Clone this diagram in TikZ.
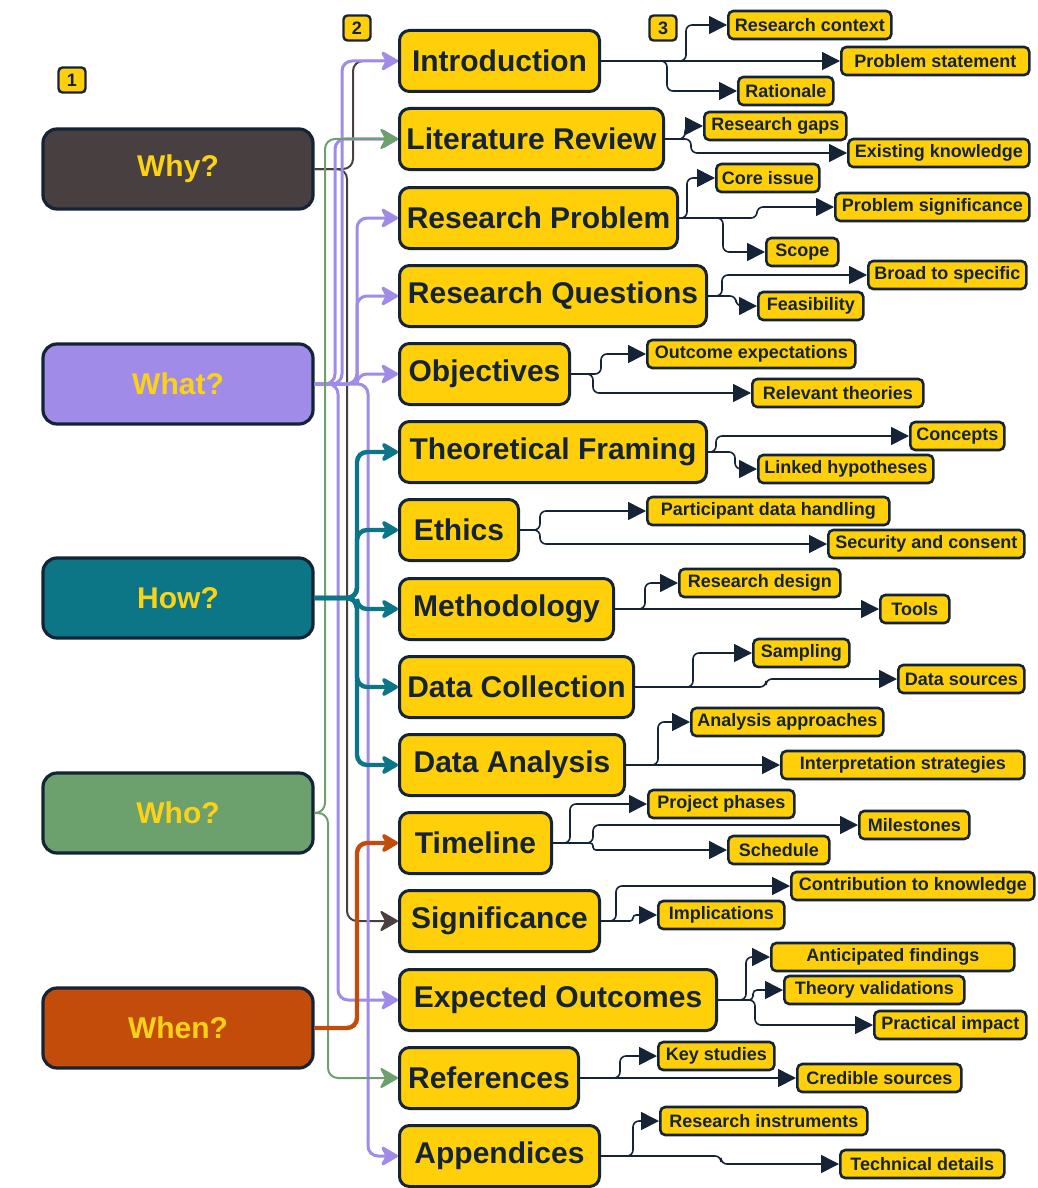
\documentclass[tikz,border=0pt]{standalone}
\usepackage{fontspec}
\setmainfont{Liberation Sans}
\usetikzlibrary{arrows.meta,positioning}

\definecolor{navy}{RGB}{20,36,54}
\definecolor{boxyellow}{RGB}{255,208,10}
\definecolor{labelyellow}{RGB}{252,210,22}
\definecolor{whycol}{RGB}{72,64,64}
\definecolor{whatcol}{RGB}{160,140,232}
\definecolor{howcol}{RGB}{12,118,134}
\definecolor{whocol}{RGB}{108,160,108}
\definecolor{whencol}{RGB}{196,76,10}

\tikzset{
  cat/.style={draw=navy, line width=1.6pt, rounded corners=7pt, minimum width=135pt,
    minimum height=40pt, text=labelyellow, font=\fontsize{15}{18}\selectfont\bfseries},
  part/.style={draw=navy, fill=boxyellow, line width=1.5pt, rounded corners=5pt,
    minimum height=30.5pt, inner sep=0pt, anchor=west, text=navy,
    font=\fontsize{15}{18}\selectfont\bfseries},
  leaf/.style={draw=navy, fill=boxyellow, line width=1.3pt, rounded corners=2.5pt,
    minimum height=14pt, inner sep=0pt, anchor=west, text=navy,
    font=\fontsize{9}{11}\selectfont\bfseries},
  badge/.style={draw=navy, fill=boxyellow, line width=1.2pt, rounded corners=2pt,
    minimum width=13.5pt, minimum height=12.5pt, inner sep=0pt, text=navy,
    font=\fontsize{9}{10}\selectfont\bfseries},
  leafline/.style={draw=navy, line width=0.8pt, rounded corners=3pt,
    -{Triangle[length=9pt,width=9pt]}},
  catline/.style={rounded corners=5pt, -{Stealth[length=10pt,width=11.5pt,inset=3pt,round]}},
}

\begin{document}
\begin{tikzpicture}[x=0.5pt,y=-0.5pt]
\fill[white] (0,0) rectangle (1038,1188);
\useasboundingbox (0,0) rectangle (1038,1188);

% step markers
\node[badge] (b1) at (72,80) {1};
\node[badge] (b2) at (357,28) {2};
\node[badge] (b3) at (663,28) {3};

% questions
\node[cat, fill=whycol] (why) at (178,169) {Why?};
\node[cat, fill=whatcol] (what) at (178,384) {What?};
\node[cat, fill=howcol] (how) at (178,598) {How?};
\node[cat, fill=whocol] (who) at (178,813) {Who?};
\node[cat, fill=whencol] (when) at (178,1028) {When?};

% sections
\node[part, minimum width=100pt] (intro) at (398,61) {Introduction};
\node[part, minimum width=132pt] (litrev) at (398,139) {Literature Review};
\node[part, minimum width=139pt] (resprob) at (398,218) {Research Problem};
\node[part, minimum width=153.5pt] (resq) at (398,296) {Research Questions};
\node[part, minimum width=85pt] (obj) at (398,374) {Objectives};
\node[part, minimum width=153.5pt] (theo) at (398,452) {Theoretical Framing};
\node[part, minimum width=59.5pt] (eth) at (398,530) {Ethics};
\node[part, minimum width=107pt] (meth) at (398,609) {Methodology};
\node[part, minimum width=117pt] (dcol) at (398,687) {Data Collection};
\node[part, minimum width=112.5pt] (dana) at (398,765) {Data Analysis};
\node[part, minimum width=76pt] (tline) at (398,843) {Timeline};
\node[part, minimum width=100pt] (sig) at (398,921) {Significance};
\node[part, minimum width=158.5pt] (expo) at (398,1000) {Expected Outcomes};
\node[part, minimum width=89.5pt] (refs) at (398,1078) {References};
\node[part, minimum width=100pt] (app) at (398,1156) {Appendices};

% details
\node[leaf, minimum width=81.5pt] (ctx) at (727,25) {Research context};
\node[leaf, minimum width=94pt] (pstat) at (840,61) {Problem statement};
\node[leaf, minimum width=47.5pt] (ratio) at (737,91) {Rationale};
\node[leaf, minimum width=71pt] (gaps) at (703,126) {Research gaps};
\node[leaf, minimum width=90.5pt] (exkn) at (847,153) {Existing knowledge};
\node[leaf, minimum width=51.5pt] (core) at (715,178) {Core issue};
\node[leaf, minimum width=97pt] (psig) at (834,207) {Problem significance};
\node[leaf, minimum width=36pt] (scope) at (765,252) {Scope};
\node[leaf, minimum width=79pt] (broad) at (867,275) {Broad to specific};
\node[leaf, minimum width=52.5pt] (feas) at (757,306) {Feasibility};
\node[leaf, minimum width=104pt] (outc) at (646,354) {Outcome expectations};
\node[leaf, minimum width=85.5pt] (relt) at (751,393) {Relevant theories};
\node[leaf, minimum width=47pt] (conc) at (909,436) {Concepts};
\node[leaf, minimum width=87.5pt] (hyp) at (757,469) {Linked hypotheses};
\node[leaf, minimum width=121pt] (pdh) at (646,511) {Participant data handling};
\node[leaf, minimum width=98pt] (secc) at (827,544) {Security and consent};
\node[leaf, minimum width=80.5pt] (rdes) at (678,583) {Research design};
\node[leaf, minimum width=34.5pt] (tools) at (879,609) {Tools};
\node[leaf, minimum width=48pt] (samp) at (752,653) {Sampling};
\node[leaf, minimum width=63pt] (dsrc) at (897,679) {Data sources};
\node[leaf, minimum width=96pt] (anap) at (690,722) {Analysis approaches};
\node[leaf, minimum width=121.5pt] (intp) at (780,765) {Interpretation strategies};
\node[leaf, minimum width=73pt] (phas) at (647,804) {Project phases};
\node[leaf, minimum width=55pt] (miles) at (858,825) {Milestones};
\node[leaf, minimum width=50.5pt] (sched) at (727,850) {Schedule};
\node[leaf, minimum width=121.5pt] (contr) at (790,886) {Contribution to knowledge};
\node[leaf, minimum width=63pt] (impl) at (657,915) {Implications};
\node[leaf, minimum width=121.5pt] (antf) at (770,957) {Anticipated findings};
\node[leaf, minimum width=90pt] (tval) at (783,990) {Theory validations};
\node[leaf, minimum width=76pt] (prac) at (873,1025) {Practical impact};
\node[leaf, minimum width=58pt] (keys) at (657,1056) {Key studies};
\node[leaf, minimum width=82pt] (cred) at (796,1078) {Credible sources};
\node[leaf, minimum width=103.5pt] (rins) at (659,1121) {Research instruments};
\node[leaf, minimum width=82pt] (tech) at (839,1164) {Technical details};

% question -> section
\draw[whycol, line width=1pt, rounded corners=5pt] (why.east) -| ([xshift=-22.5pt]intro.west) -- (intro.west);
\draw[catline, whycol, line width=1pt] (why.east) -| ([xshift=-25.5pt]sig.west) -- (sig.west);
\draw[catline, whatcol, line width=1.5pt] (what.east) -| ([xshift=-31.5pt]litrev.west) -- (litrev.west);
\draw[catline, whatcol, line width=1.5pt] (what.east) -| ([xshift=-28pt]intro.west) -- (intro.west);
\draw[catline, whatcol, line width=1.5pt] (what.east) -| ([xshift=-20.5pt]resprob.west) -- (resprob.west);
\draw[catline, whatcol, line width=1.5pt] (what.east) -| ([xshift=-20.5pt]resq.west) -- (resq.west);
\draw[catline, whatcol, line width=1.5pt] (what.east) -| ([xshift=-20.5pt]obj.west) -- (obj.west);
\draw[catline, whatcol, line width=1.5pt] (what.east) -| ([xshift=-30pt]expo.west) -- (expo.west);
\draw[catline, whatcol, line width=1.5pt] (what.east) -| ([xshift=-15pt]app.west) -- (app.west);
\draw[catline, whocol, line width=1pt] (who.east) -| ([xshift=-36.5pt]litrev.west) -- (litrev.west);
\draw[catline, whocol, line width=1pt] (who.east) -| ([xshift=-35pt]refs.west) -- (refs.west);
\foreach \s in {theo,eth,meth,dcol,dana}
  \draw[catline, howcol, line width=2.2pt] (how.east) -| ([xshift=-20.5pt]\s.west) -- (\s.west);
\draw[catline, whencol, line width=2.2pt] (when.east) -| ([xshift=-20.5pt]tline.west) -- (tline.west);

% section -> details
\draw[leafline] (intro.east) -- ++(85,0) |- (ctx.west);
\draw[leafline] (intro.east) -- (pstat.west);
\draw[leafline] (intro.east) -- ++(66,0) |- (ratio.west);
\draw[leafline] (litrev.east) -- ++(20,0) |- (gaps.west);
\draw[leafline] (litrev.east) -- ++(26,0) |- (exkn.west);
\draw[leafline] (resprob.east) -- ++(8,0) |- (core.west);
\draw[leafline] (resprob.east) -- ++(78,0) |- (psig.west);
\draw[leafline] (resprob.east) -- ++(44,0) |- (scope.west);
\draw[leafline] (resq.east) -- ++(14,0) |- (broad.west);
\draw[leafline] (resq.east) -- ++(28,0) |- (feas.west);
\draw[leafline] (obj.east) -- ++(30,0) |- (outc.west);
\draw[leafline] (obj.east) -- ++(22,0) |- (relt.west);
\draw[leafline] (theo.east) -- ++(8,0) |- (conc.west);
\draw[leafline] (theo.east) -- ++(27,0) |- (hyp.west);
\draw[leafline] (eth.east) -- ++(20,0) |- (pdh.west);
\draw[leafline] (eth.east) -- ++(20,0) |- (secc.west);
\draw[leafline] (meth.east) -- ++(30,0) |- (rdes.west);
\draw[leafline] (meth.east) -- (tools.west);
\draw[leafline] (dcol.east) -- ++(58,0) |- (samp.west);
\draw[leafline] (dcol.east) -- ++(131,0) |- (dsrc.west);
\draw[leafline] (dana.east) -- ++(32,0) |- (anap.west);
\draw[leafline] (dana.east) -- (intp.west);
\draw[leafline] (tline.east) -- ++(17,0) |- (phas.west);
\draw[leafline] (tline.east) -- ++(40,0) |- (miles.west);
\draw[leafline, rounded corners=1.5pt] (tline.east) -- ++(40,0) |- (sched.west);
\draw[leafline] (sig.east) -- ++(15,0) |- (contr.west);
\draw[leafline, rounded corners=1.5pt] (sig.east) -- ++(32,0) |- (impl.west);
\draw[leafline] (expo.east) -- ++(28,0) |- (antf.west);
\draw[leafline, rounded corners=2pt] (expo.east) -- ++(35,0) |- (tval.west);
\draw[leafline] (expo.east) -- ++(37,0) |- (prac.west);
\draw[leafline] (refs.east) -- ++(40,0) |- (keys.west);
\draw[leafline] (refs.east) -- (cred.west);
\draw[leafline] (app.east) -- ++(32,0) |- (rins.west);
\draw[leafline] (app.east) -- ++(120,0) |- (tech.west);
\end{tikzpicture}
\end{document}
